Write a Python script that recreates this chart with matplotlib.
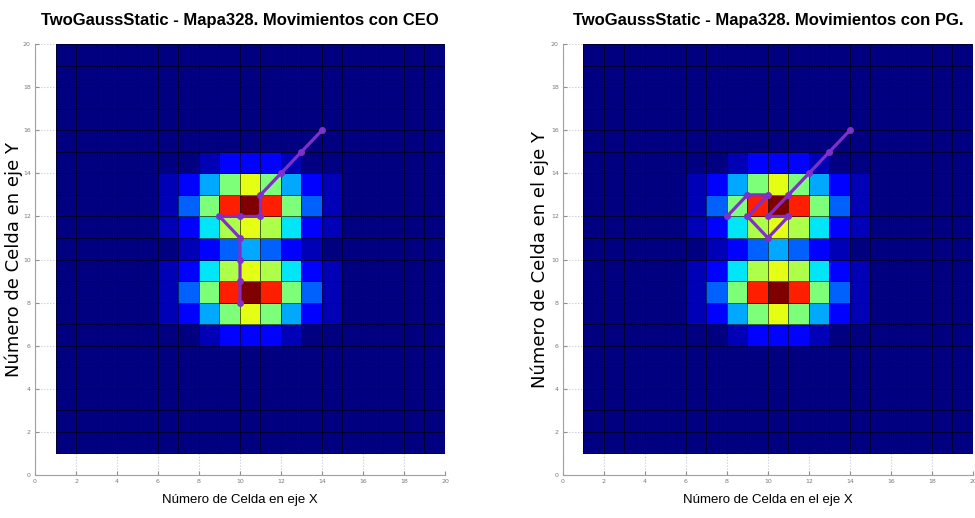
import numpy as np
import matplotlib
matplotlib.use("Agg")
from matplotlib import pyplot as plt

# cell edges of the 20x20 map (MATLAB-style pcolor: 19x19 visible cells)
x_edges = list(range(1, 21))
y_edges = list(range(1, 21))

# values of the cells around the two gaussians, rows y=14 (top) down to y=6, columns x=6..14
block_rows = [
    [0.00, 0.00, 0.05, 0.125, 0.125, 0.125, 0.05, 0.00, 0.00],
    [0.05, 0.125, 0.29, 0.50, 0.625, 0.50, 0.29, 0.125, 0.05],
    [0.05, 0.22, 0.50, 0.875, 1.00, 0.875, 0.50, 0.22, 0.05],
    [0.05, 0.125, 0.35, 0.56, 0.625, 0.56, 0.35, 0.125, 0.05],
    [0.00, 0.05, 0.125, 0.22, 0.29, 0.22, 0.125, 0.05, 0.00],
    [0.05, 0.125, 0.35, 0.56, 0.625, 0.56, 0.35, 0.125, 0.05],
    [0.05, 0.22, 0.50, 0.875, 1.00, 0.875, 0.50, 0.22, 0.05],
    [0.05, 0.125, 0.29, 0.50, 0.625, 0.50, 0.29, 0.125, 0.05],
    [0.00, 0.00, 0.05, 0.125, 0.125, 0.125, 0.05, 0.00, 0.00],
]
block_x0 = 6
block_y0 = 6

# robot moves (cell corner coordinates)
ceo_x = [14, 13, 12, 11, 11, 10, 9, 10, 10, 10, 10]
ceo_y = [16, 15, 14, 13, 12, 12, 12, 11, 10, 9, 8]
pg_x = [14, 13, 12, 11, 10, 11, 10, 9, 10, 9, 8]
pg_y = [16, 15, 14, 13, 12, 12, 11, 12, 13, 13, 12]

titles = ["TwoGaussStatic - Mapa328. Movimientos con CEO",
          "TwoGaussStatic - Mapa328. Movimientos con PG."]
xlabels = ["Número de Celda en eje X", "Número de Celda en el eje X"]
ylabels = ["Número de Celda en eje Y", "Número de Celda en el eje Y"]
ticks = list(range(0, 21, 2))

C = np.zeros((len(y_edges) - 1, len(x_edges) - 1))
blk = np.array(block_rows)[::-1]
C[block_y0 - 1:block_y0 - 1 + blk.shape[0], block_x0 - 1:block_x0 - 1 + blk.shape[1]] = blk

sans = ["Liberation Sans", "DejaVu Sans"]
path_color = "#8030c8"

fig = plt.figure(figsize=(9.75, 5.18), dpi=100)
positions = [[0.0359, 0.083, 0.4205, 0.832], [0.5774, 0.083, 0.4205, 0.832]]
paths = [(ceo_x, ceo_y), (pg_x, pg_y)]
ylabel_x = [14 / 975, 540 / 975]

for i in range(2):
    ax = fig.add_axes(positions[i])
    ax.set_axisbelow(True)
    ax.grid(True, linestyle=":", color="#c8c8c8", linewidth=0.8)
    ax.pcolormesh(x_edges, y_edges, C, cmap="jet", vmin=0, vmax=1,
                  edgecolors=(0, 0, 0, 0.6), linewidth=0.6, zorder=2)
    px, py = paths[i]
    ax.plot(px, py, color=path_color, linewidth=2.3, marker="o", markersize=4,
            solid_capstyle="round", zorder=3)
    ax.set_xlim(0, 20)
    ax.set_ylim(0, 20)
    ax.set_xticks(ticks)
    ax.set_yticks(ticks)
    ax.tick_params(direction="in", length=3, color="#909090", labelcolor="#7a7a7a",
                   labelsize=4.5, pad=3)
    for s in ["top", "right"]:
        ax.spines[s].set_visible(False)
    for s in ["left", "bottom"]:
        ax.spines[s].set_color("#a0a0a0")
    cx = positions[i][0] + positions[i][2] / 2
    cy = positions[i][1] + positions[i][3] / 2
    fig.text(cx, 1 - 21 / 518, titles[i], ha="center", va="center",
             family=sans, fontweight="bold", fontsize=12)
    fig.text(cx, 1 - 500 / 518, xlabels[i], ha="center", va="center",
             family=sans, fontsize=9.5)
    fig.text(ylabel_x[i], cy, ylabels[i], ha="center", va="center", rotation=90,
             family=["DejaVu Sans"], fontsize=13)

fig.savefig("out.png", dpi=100)
